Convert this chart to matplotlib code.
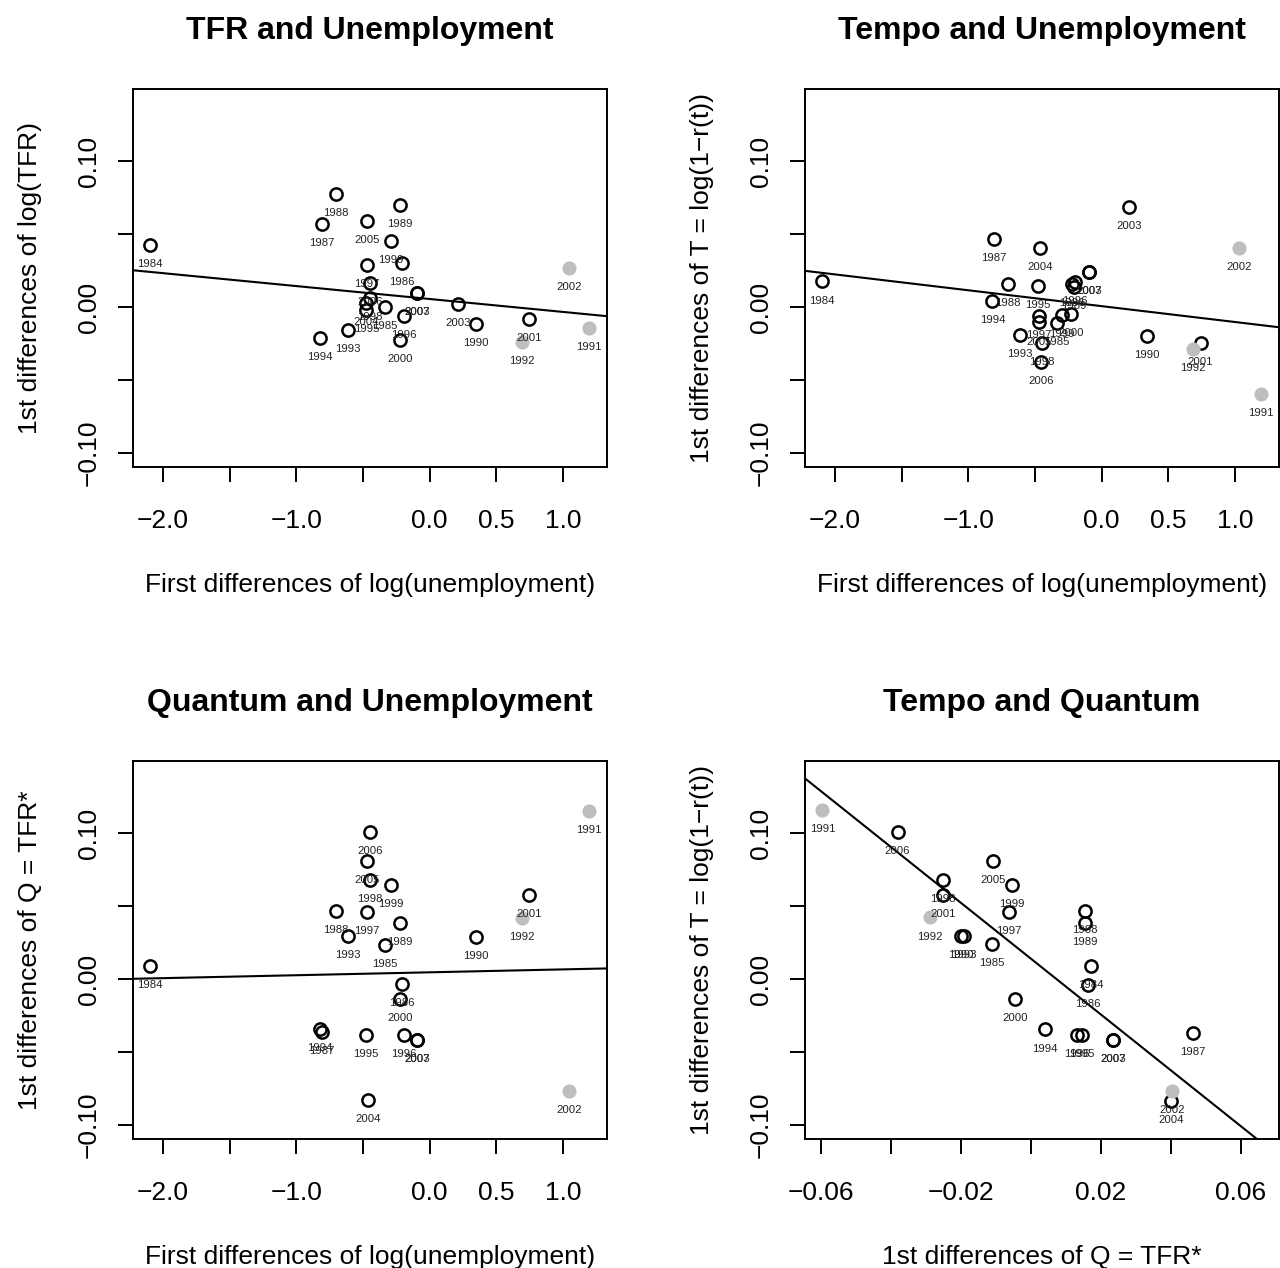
import numpy as np
import matplotlib
matplotlib.use("Agg")
import matplotlib.pyplot as plt

plt.rcParams['font.family'] = ['Liberation Sans', 'DejaVu Sans']

# first differences
years = ["1984", "1985", "1986", "1987", "1988", "1989", "1990", "1991",
         "1992", "1993", "1994", "1995", "1996", "1997", "1998", "1999",
         "2000", "2001", "2002", "2003", "2004", "2005", "2006", "2007", "2003"]
grey_years = ["1991", "1992", "2002"]

# panel 1: TFR vs unemployment
p1_x = [-2.095, -0.3375, -0.205, -0.805, -0.7025, -0.225, 0.345, 1.195,
        0.6925, -0.6125, -0.82, -0.475, -0.195, -0.47, -0.45, -0.2925,
        -0.225, 0.7425, 1.0425, 0.2125, -0.475, -0.47, -0.45, -0.0925, -0.0925]
p1_y = [0.0426, 0.0000, 0.0301, 0.0568, 0.0775, 0.0700, -0.0114, -0.0144,
        -0.0242, -0.0155, -0.0212, -0.0018, -0.0059, 0.0290, 0.0062, 0.0452,
        -0.0223, -0.0080, 0.0271, 0.0025, 0.0027, 0.0588, 0.0164, 0.0096, 0.0096]

# panel 2: tempo vs unemployment
p2_x = [-2.095, -0.336, -0.225, -0.806, -0.705, -0.207, 0.342, 1.193,
        0.685, -0.612, -0.819, -0.478, -0.200, -0.470, -0.450, -0.298,
        -0.231, 0.742, 1.033, 0.208, -0.463, -0.470, -0.455, -0.096, -0.096]
p2_y = [0.0176, -0.0109, 0.0160, 0.0465, 0.0160, 0.0141, -0.0196, -0.0593,
        -0.0285, -0.0189, 0.0043, 0.0148, 0.0171, -0.0059, -0.0246, -0.0052,
        -0.0046, -0.0246, 0.0404, 0.0684, 0.0404, -0.0105, -0.0379, 0.0239, 0.0239]

# panel 3: quantum vs unemployment
p3_x = [-2.095, -0.3375, -0.205, -0.805, -0.7025, -0.225, 0.345, 1.195,
        0.6925, -0.6125, -0.825, -0.48, -0.195, -0.47, -0.445, -0.2925,
        -0.225, 0.7425, 1.0425, -0.0925, -0.46, -0.47, -0.45, -0.0925]
p3_y = [0.0089, 0.0237, -0.0036, -0.0365, 0.0465, 0.0383, 0.0290, 0.1156,
        0.0422, 0.0296, -0.0344, -0.0383, -0.0383, 0.0461, 0.0677, 0.0645,
        -0.0139, 0.0577, -0.0769, -0.0417, -0.0830, 0.0810, 0.1008, -0.0417]

# panel 4: tempo vs quantum
p4_x = [0.0172, -0.0113, 0.0164, 0.0463, 0.0154, 0.0154, -0.0201, -0.0597,
        -0.0289, -0.0191, 0.0039, 0.0146, 0.0131, -0.0064, -0.0251, -0.0054,
        -0.0046, -0.0251, 0.0403, 0.0235, 0.0402, -0.0109, -0.0382, 0.0235]
p4_y = [0.0089, 0.0238, -0.0037, -0.0368, 0.0466, 0.0384, 0.0295, 0.1159,
        0.0423, 0.0295, -0.0345, -0.0384, -0.0384, 0.0459, 0.0679, 0.0647,
        -0.0139, 0.0576, -0.0770, -0.0418, -0.0832, 0.0811, 0.1010, -0.0418]

# fitted lines (intercept, slope)
p1_fit = (0.0056, -0.00886)
p2_fit = (0.0007, -0.01088)
p3_fit = (0.0047, 0.0020)
p4_fit = (0.0140, -1.911)

unemp_ticks = [-2.0, -1.5, -1.0, -0.5, 0.0, 0.5, 1.0]
unemp_labels = ["\u22122.0", "", "\u22121.0", "", "0.0", "0.5", "1.0"]
q_ticks = [-0.06, -0.04, -0.02, 0.0, 0.02, 0.04, 0.06]
q_labels = ["\u22120.06", "", "\u22120.02", "", "0.02", "", "0.06"]
y_ticks = [-0.10, -0.05, 0.0, 0.05, 0.10]
y_labels = ["\u22120.10", "", "0.00", "", "0.10"]

W, H = 1280, 1268
fig = plt.figure(figsize=(W / 100, H / 100), dpi=100)


def panel(left, top, x, y, labs, fit, title, xlab, ylab, xlim, xt, xtl):
    ax = fig.add_axes([left / W, (H - top - 378) / H, 474 / W, 378 / H])
    x = np.array(x)
    y = np.array(y)
    labs = np.array(labs[:len(x)])
    grey = np.isin(labs, grey_years)
    ax.plot(x[~grey], y[~grey], 'o', ms=8.8, mfc='none', mec='black', mew=1.8)
    ax.plot(x[grey], y[grey], 'o', ms=10.2, mfc='#bebebe', mec='none')
    for xi, yi, t in zip(x, y, labs):
        ax.annotate(t, (xi, yi), xytext=(0, -13.7), textcoords='offset points',
                    ha='center', va='center', fontsize=8.2, color='#222222')
    ax.axline((0, fit[0]), slope=fit[1], color='black', lw=1.5)
    ax.set_xlim(xlim)
    ax.set_ylim(-0.1096, 0.1496)
    ax.set_xticks(xt)
    ax.set_xticklabels(xtl)
    ax.set_yticks(y_ticks)
    ax.set_yticklabels(y_labels, rotation=90, va='center')
    ax.tick_params(length=11, width=1.4, labelsize=19, direction='out')
    ax.tick_params(axis='x', pad=19)
    ax.tick_params(axis='y', pad=12)
    for s in ax.spines.values():
        s.set_linewidth(1.4)
    ax.set_title(title, fontsize=23, fontweight='bold', pad=36)
    ax.set_xlabel(xlab, fontsize=19, va='center')
    ax.xaxis.set_label_coords(0.5, -0.312)
    ax.set_ylabel(ylab, fontsize=19, va='center')
    ax.yaxis.set_label_coords(-0.217, 0.5)
    return ax


unemp_lim = (-2.225, 1.33)
xl_u = "First differences of log(unemployment)"
yl_t = "1st differences of T = log(1\u2212r(t))"
yl_q = "1st differences of Q = TFR*"

panel(133, 89, p1_x, p1_y, years, p1_fit, "TFR and Unemployment", xl_u,
      "1st differences of log(TFR)", unemp_lim, unemp_ticks, unemp_labels)
panel(805, 89, p2_x, p2_y, years, p2_fit, "Tempo and Unemployment", xl_u,
      yl_t, unemp_lim, unemp_ticks, unemp_labels)
panel(133, 761, p3_x, p3_y, years, p3_fit, "Quantum and Unemployment", xl_u,
      yl_q, unemp_lim, unemp_ticks, unemp_labels)
panel(805, 761, p4_x, p4_y, years, p4_fit, "Tempo and Quantum", yl_q,
      yl_t, (-0.0647, 0.071), q_ticks, q_labels)

fig.savefig("out.png", dpi=100, facecolor='white')
